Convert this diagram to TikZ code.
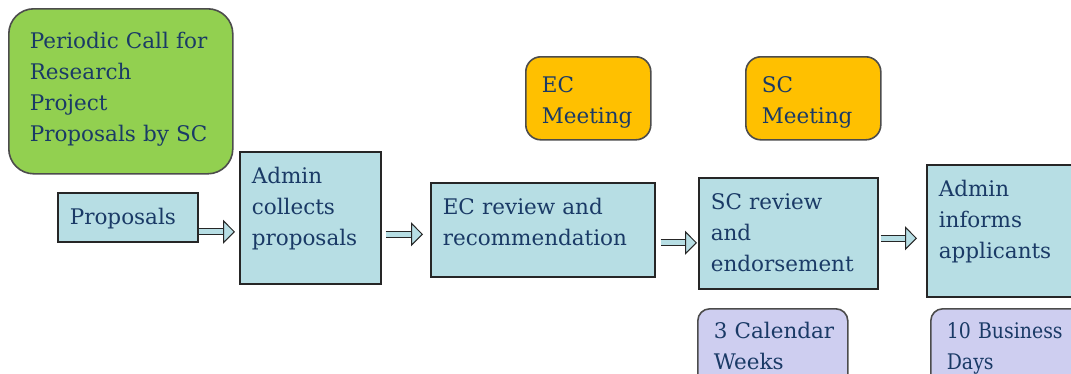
\documentclass[tikz,border=0pt]{standalone}
\usepackage{fontspec}
\setmainfont{DejaVu Serif}
\newfontfamily\narrowserif[FakeStretch=0.88]{DejaVu Serif}
\usetikzlibrary{arrows.meta}
\hyphenpenalty=10000

\definecolor{callgreen}{RGB}{146,208,80}
\definecolor{boxblue}{RGB}{183,222,228}
\definecolor{meetorange}{RGB}{255,192,0}
\definecolor{timelilac}{RGB}{206,206,240}
\definecolor{inkblue}{RGB}{26,58,102}

\tikzset{
  every node/.style={font=\fontsize{21.5}{31}\selectfont, text=inkblue, align=left, anchor=north west, inner ysep=4pt},
  stepbox/.style={draw=black!85, line width=1.6pt, fill=boxblue, inner xsep=12pt, text height=28pt},
  callbox/.style={draw=black!70, line width=1.6pt, fill=callgreen, rounded corners=25pt, inner xsep=21pt, text height=36pt},
  meetbox/.style={draw=black!70, line width=1.6pt, fill=meetorange, rounded corners=15pt, inner xsep=16pt, text height=32pt},
  timebox/.style={draw=black!70, line width=1.6pt, fill=timelilac, rounded corners=12pt, inner xsep=16pt, text height=26pt},
  flowarrow/.style={draw=black!85, line width=1pt, double=boxblue, double distance=5pt,
    -{Triangle[open, fill=boxblue, length=12pt, width=24pt]}}
}

\begin{document}
\begin{tikzpicture}[x=1pt, y=-1pt]
  \clip (0,0) rectangle (1071,373);

  % boxes of the procedure
  \node [callbox, minimum width=224pt, text width=182pt, text depth=121pt] (call) at (8,8)
    {Periodic~Call~for\\Research\\Project\\Proposals~by~SC};
  \node [stepbox, minimum width=140pt, text width=116pt, text depth=13pt] (prop) at (57,192) {Proposals};
  \node [stepbox, minimum width=141pt, text width=117pt, text depth=96pt] (collect) at (239,151)
    {Admin\\collects\\proposals};
  \node [stepbox, minimum width=224pt, text width=200pt, text depth=58pt] (ecrev) at (430,182)
    {EC review and\\recommendation};
  \node [stepbox, minimum width=179pt, text width=155pt, text depth=75pt] (screv) at (698,177)
    {SC review\\and\\endorsement};
  \node [stepbox, minimum width=200pt, text width=176pt, text depth=96pt] (inform) at (926,164)
    {Admin\\informs\\applicants};

  % meetings and durations
  \node [meetbox, minimum width=125pt, text width=93pt, text depth=43pt] (ecmeet) at (525,56) {EC\\Meeting};
  \node [meetbox, minimum width=135pt, text width=103pt, text depth=43pt] (scmeet) at (745,56) {SC\\Meeting};
  \node [timebox, minimum width=150pt, text width=118pt, text depth=51pt] (weeks) at (697,308)
    {3~Calendar\\Weeks};
  \node [timebox, minimum width=170pt, text width=138pt, text depth=51pt] (days) at (930,308)
    {\narrowserif 10~Business\\Days};

  % arrows
  \draw [flowarrow, shorten >=4pt] ([yshift=-14.5pt]prop.east) -- ([yshift=-14pt]collect.west);
  \draw [flowarrow, shorten <=4pt, shorten >=7pt] ([yshift=-16.5pt]collect.east) -- ([yshift=-4.5pt]ecrev.west);
  \draw [flowarrow, shorten <=5pt, shorten >=1pt] ([yshift=-13pt]ecrev.east) -- ([yshift=-9.5pt]screv.west);
  \draw [flowarrow, shorten <=2pt, shorten >=9pt] ([yshift=-5pt]screv.east) -- ([yshift=-7.5pt]inform.west);
\end{tikzpicture}
\end{document}
